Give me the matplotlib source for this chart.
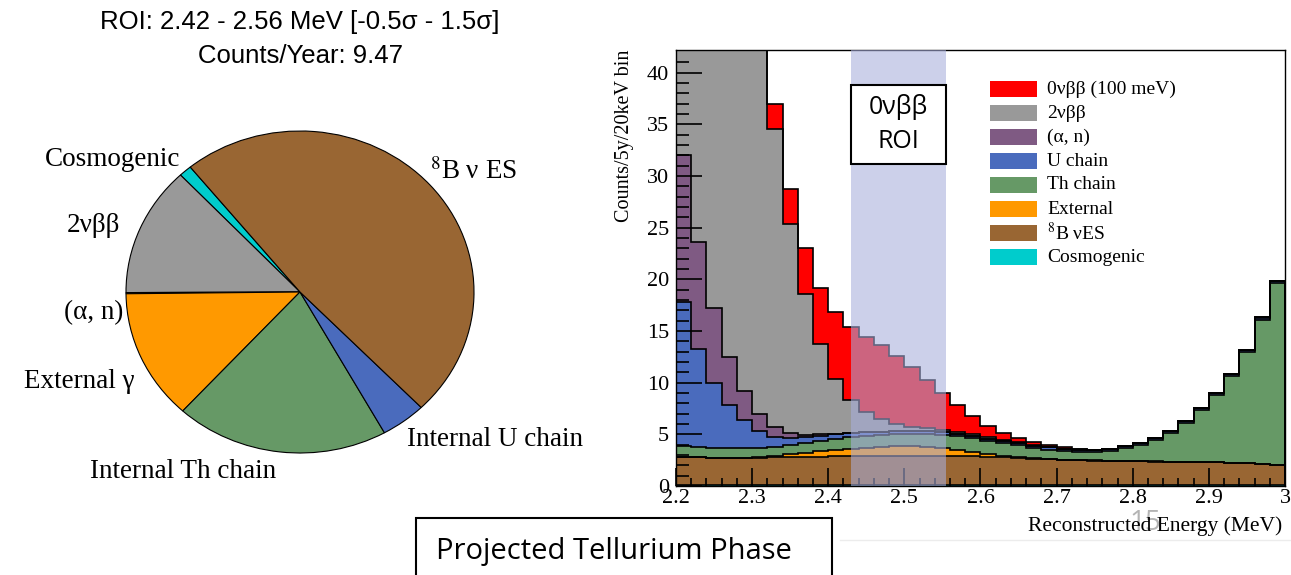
import numpy as np
import matplotlib.pyplot as plt
from matplotlib.patches import Rectangle

plt.rcParams['mathtext.fontset'] = 'stix'

W, H = 1291, 575

# ---- pie: background composition in the ROI (counts / year) ----
pie_labels = ['Cosmogenic', '2νββ', '(α, n)', 'External γ',
              'Internal Th chain', 'Internal U chain', r'$^{8}$B ν ES']
pie_counts = [0.113, 1.231, 0.011, 1.236, 1.878, 0.398, 4.600]
pie_colors = ['#00cccc', '#999999', '#7f5a83', '#ff9900', '#669966', '#4a6bbd', '#996633']

# ---- stacked spectrum, 20 keV bins from 2.2 to 3.0 MeV ----
edges = np.round(np.arange(2.2, 3.0001, 0.02), 3)
cosmogenic = [0.10, 0.10, 0.09, 0.09, 0.08, 0.08, 0.08, 0.08, 0.08, 0.08,
              0.08, 0.08, 0.08, 0.08, 0.08, 0.08, 0.08, 0.08, 0.08, 0.08,
              0.08, 0.08, 0.08, 0.08, 0.08, 0.08, 0.08, 0.08, 0.08, 0.08,
              0.08, 0.08, 0.08, 0.08, 0.08, 0.08, 0.08, 0.08, 0.08, 0.08]
b8_es = [2.68, 2.66, 2.65, 2.64, 2.65, 2.66, 2.68, 2.71, 2.74, 2.77,
         2.80, 2.82, 2.84, 2.85, 2.86, 2.86, 2.85, 2.84, 2.82, 2.78,
         2.73, 2.68, 2.62, 2.56, 2.50, 2.45, 2.41, 2.38, 2.35, 2.33,
         2.31, 2.29, 2.27, 2.25, 2.23, 2.20, 2.16, 2.11, 2.05, 1.98]
external = [0.00, 0.00, 0.00, 0.00, 0.01, 0.05, 0.15, 0.30, 0.38, 0.50,
            0.57, 0.65, 0.73, 0.82, 0.91, 0.91, 0.87, 0.78, 0.58, 0.39,
            0.24, 0.14, 0.08, 0.05, 0.03, 0.02, 0.01, 0.01, 0.01, 0.01,
            0.01, 0.01, 0.01, 0.01, 0.01, 0.01, 0.01, 0.01, 0.01, 0.01]
th_chain = [1.12, 0.99, 0.96, 0.92, 0.91, 0.93, 0.89, 0.91, 1.00, 1.05,
            1.10, 1.15, 1.15, 1.15, 1.15, 1.15, 1.20, 1.25, 1.32, 1.37,
            1.33, 1.25, 1.15, 1.01, 0.92, 0.83, 0.82, 0.81, 0.94, 1.28,
            1.53, 2.10, 2.76, 3.76, 5.03, 6.48, 8.35, 10.80, 13.96, 17.53]
u_chain = [13.90, 9.55, 6.30, 4.19, 2.70, 1.63, 0.97, 0.60, 0.50, 0.45,
           0.45, 0.40, 0.40, 0.35, 0.30, 0.30, 0.28, 0.25, 0.23, 0.22,
           0.20, 0.20, 0.20, 0.20, 0.20, 0.20, 0.20, 0.20, 0.20, 0.20,
           0.20, 0.20, 0.20, 0.20, 0.20, 0.20, 0.20, 0.20, 0.20, 0.20]
alpha_n = [14.20, 10.35, 7.20, 4.61, 2.85, 1.62, 0.97, 0.50, 0.20, 0.15,
           0.05, 0.03, 0.02, 0.01, 0.01, 0.01, 0.01, 0.01, 0.01, 0.01,
           0.01, 0.01, 0.01, 0.01, 0.01, 0.01, 0.01, 0.01, 0.01, 0.01,
           0.01, 0.01, 0.01, 0.01, 0.01, 0.01, 0.01, 0.01, 0.01, 0.01]
two_nu = [80.0, 70.0, 61.0, 52.0, 45.0, 39.0, 28.8, 20.3, 13.7, 8.7,
          5.30, 3.17, 1.93, 1.24, 0.72, 0.43, 0.28, 0.21, 0.22, 0.17,
          0.14, 0.10, 0.08, 0.05, 0.03, 0.01, 0.01, 0.00, 0.00, 0.00,
          0.00, 0.00, 0.00, 0.00, 0.00, 0.00, 0.00, 0.00, 0.00, 0.00]
zero_nu = [0.2, 0.4, 0.6, 0.9, 1.3, 1.8, 2.40, 3.30, 4.40, 5.45,
           6.45, 7.06, 7.30, 7.10, 6.57, 5.81, 4.69, 3.58, 2.54, 1.75,
           1.11, 0.67, 0.43, 0.27, 0.19, 0.14, 0.02, 0.01, 0.00, 0.00,
           0.00, 0.00, 0.00, 0.00, 0.00, 0.00, 0.00, 0.00, 0.00, 0.00]

stack = [
    ('Cosmogenic', cosmogenic, '#00cccc'),
    (r'$^{8}$B νES', b8_es, '#996633'),
    ('External', external, '#ff9900'),
    ('Th chain', th_chain, '#669966'),
    ('U chain', u_chain, '#4a6bbd'),
    ('(α, n)', alpha_n, '#7f5a83'),
    ('2νββ', two_nu, '#999999'),
    ('0νββ (100 meV)', zero_nu, '#ff0000'),
]
roi = (2.43, 2.555)


def fx(px):
    return px / W


def fy(py):
    return 1 - py / H


fig = plt.figure(figsize=(W / 100, H / 100), dpi=100)

# ---------------- left: pie ----------------
fig.text(fx(300), fy(22), 'ROI: 2.42 - 2.56 MeV [-0.5σ - 1.5σ]', family='Liberation Sans',
         fontsize=18.5, ha='center', va='center')
fig.text(fx(300), fy(56), 'Counts/Year: 9.47', family='Liberation Sans',
         fontsize=18.5, ha='center', va='center')

pax = fig.add_axes([fx(300 - 174), fy(292 + 161), 348 / W, 322 / H])
pax.pie(pie_counts, colors=pie_colors, startangle=129.1, counterclock=True,
        wedgeprops=dict(edgecolor='black', linewidth=0.8))
pax.set_aspect('auto')
pax.set_xlim(-1, 1)
pax.set_ylim(-1, 1)
pax.axis('off')

serif = 'Liberation Serif'
lab_pos = [(180, 160, 'right'), (120, 225, 'right'), (123, 313, 'right'), (135, 381, 'right'),
           (90, 472, 'left'), (407, 440, 'left'), (430, 172, 'left')]
for lab, (x, y, ha) in zip(pie_labels, lab_pos):
    fig.text(fx(x), fy(y), lab, family=serif, fontsize=19.5, ha=ha, va='center')

# ---------------- right: stacked spectrum ----------------
ax = fig.add_axes([fx(676), fy(486), 609 / W, 436 / H])
cum = np.cumsum([np.array(v) for _, v, _ in stack], axis=0)
for i in range(len(stack) - 1, -1, -1):
    ax.stairs(cum[i], edges, fill=True, facecolor=stack[i][2], edgecolor='none', zorder=1)
    ax.stairs(cum[i], edges, color='black', linewidth=1.2, zorder=1.5)
ax.axvspan(roi[0], roi[1], color=(168 / 255, 174 / 255, 220 / 255), alpha=0.58,
           linewidth=0, zorder=3)

ax.set_xlim(2.2, 3.0)
ax.set_ylim(0, 42.2)
ax.set_xticks(np.round(np.arange(2.2, 3.01, 0.1), 1))
ax.set_xticklabels(['2.2', '2.3', '2.4', '2.5', '2.6', '2.7', '2.8', '2.9', '3'])
ax.set_xticks(edges, minor=True)
ax.set_yticks(np.arange(0, 41, 5))
ax.set_yticks(np.arange(0, 42, 1), minor=True)
ax.tick_params(axis='both', which='both', direction='in', width=1.2, colors='black')
ax.tick_params(axis='x', which='major', length=13, pad=2)
ax.tick_params(axis='x', which='minor', length=6)
ax.tick_params(axis='y', which='major', length=19, pad=5)
ax.tick_params(axis='y', which='minor', length=9)
for lbl in ax.get_xticklabels() + ax.get_yticklabels():
    lbl.set_family(serif)
    lbl.set_fontsize(16)
for sp in ax.spines.values():
    sp.set_linewidth(1.0)

fig.text(fx(625), fy(50), 'Counts/5y/20keV bin', family=serif, fontsize=14.5,
         rotation=90, ha='center', va='top')
fig.text(fx(1145), fy(523), '15', family='Open Sans', fontsize=20, color='#b4b4b4',
         ha='center', va='center', zorder=0)
fig.text(fx(1282), fy(526), 'Reconstructed Energy (MeV)', family=serif, fontsize=15.5,
         ha='right', va='center', zorder=2)
fig.add_artist(plt.Line2D([fx(840), 1], [fy(540), fy(540)], color='#ececec', linewidth=1))

# ROI box
ax.add_patch(Rectangle((fx(851), fy(164)), 95 / W, 79 / H, transform=fig.transFigure,
                       facecolor='white', edgecolor='black', linewidth=1.5, zorder=4))
fig.text(fx(898), fy(107), '0νββ', family=['Open Sans', 'DejaVu Sans'], fontsize=18,
         ha='center', va='center', zorder=5)
fig.text(fx(898), fy(141), 'ROI', family=['Open Sans', 'DejaVu Sans'], fontsize=18,
         ha='center', va='center', zorder=5)

# legend (top entry first)
for k, (name, _, col) in enumerate(stack[::-1]):
    yc = 89 + 24 * k
    fig.add_artist(Rectangle((fx(990), fy(yc + 8)), 47 / W, 16 / H, transform=fig.transFigure,
                             facecolor=col, edgecolor='none'))
    fig.text(fx(1047), fy(yc), name, family=serif, fontsize=14, ha='left', va='center')

# bottom caption box
fig.add_artist(Rectangle((fx(416), fy(600)), 416 / W, 82 / H, transform=fig.transFigure,
                         facecolor='white', edgecolor='black', linewidth=1.5, clip_on=False))
fig.text(fx(436), fy(552), 'Projected Tellurium Phase', family='Open Sans', fontsize=21,
         ha='left', va='center')

fig.savefig('out.png', dpi=100)
